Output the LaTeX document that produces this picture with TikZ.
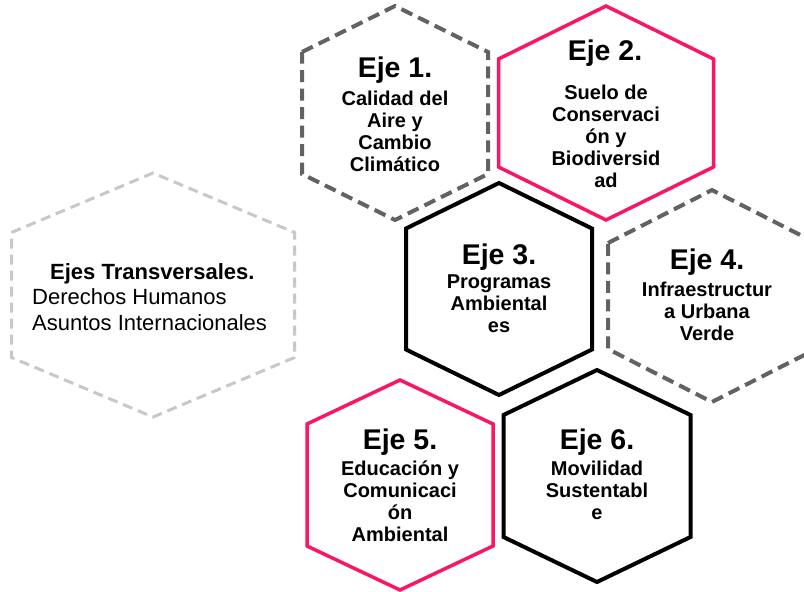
\documentclass[tikz,border=0pt]{standalone}
\usepackage{fontspec}
\setmainfont{Liberation Sans}
\definecolor{ejepink}{RGB}{250,22,102}
\definecolor{ejegray}{RGB}{98,98,98}
\definecolor{transgray}{RGB}{200,200,200}
% hexagon: centre x, centre y, half width, half height, half side
\newcommand{\hexa}[5]{(#1-#3,#2-#5) -- (#1,#2-#4) -- (#1+#3,#2-#5) -- (#1+#3,#2+#5) -- (#1,#2+#4) -- (#1-#3,#2+#5) -- cycle}
\tikzset{
  ejedash/.style={draw=ejegray, line width=4pt, dash pattern=on 12pt off 6.5pt, line join=miter},
  ejepinkline/.style={draw=ejepink, line width=3.5pt, line join=miter},
  ejeblack/.style={draw=black, line width=4pt, line join=miter},
  transdash/.style={draw=transgray, line width=3pt, dash pattern=on 10pt off 6pt},
  ejetitle/.style={font=\fontsize{28.5}{30}\selectfont\bfseries, inner sep=0pt},
  ejebody/.style={font=\fontsize{20}{22}\selectfont\bfseries, align=center, inner sep=0pt}
}
\begin{document}
\begin{tikzpicture}[x=1pt,y=-1pt]
	\useasboundingbox (0,0) rectangle (804,592);
	\fill[white] (0,0) rectangle (804,592);
	\begin{scope}
	\clip (0,0) rectangle (804,592);
	\draw[transdash] \hexa{153}{295}{141.5}{122}{62.5};
	\draw[ejedash] \hexa{395}{113}{93}{107}{61};
	\draw[ejepinkline] \hexa{606}{113}{107.5}{107}{54};
	\draw[ejeblack] \hexa{499}{289}{93}{106}{60.5};
	\draw[ejedash] \hexa{712}{296}{104}{106}{53};
	\draw[ejepinkline] \hexa{400}{485}{93}{105}{61};
	\draw[ejeblack] \hexa{597}{476}{93.5}{106}{61};
	\end{scope}
	% transversal text
	\node (trans) at (32,297) [anchor=west, align=left, inner sep=0pt, font=\fontsize{22}{25.5}\selectfont]
		{\hspace*{18pt}\textbf{Ejes Transversales.}\\Derechos Humanos\\Asuntos Internacionales};
	% ejes
	\node (t1) at (395,70)  [ejetitle] {Eje 1.};
	\node (b1) at (395,131) [ejebody]  {Calidad del\\Aire y\\Cambio\\Climático};
	\node (t2) at (605,53)  [ejetitle] {Eje 2.};
	\node (b2) at (606,136) [ejebody]  {Suelo de\\Conservaci\\ón y\\Biodiversid\\ad};
	\node (t3) at (499,257) [ejetitle] {Eje 3.};
	\node (b3) at (499,304) [ejebody]  {Programas\\Ambiental\\es};
	\node (t4) at (707,262) [ejetitle] {Eje 4.};
	\node (b4) at (707,311) [ejebody]  {Infraestructur\\a Urbana\\Verde};
	\node (t5) at (400,442) [ejetitle] {Eje 5.};
	\node (b5) at (400,501) [ejebody]  {Educación y\\Comunicaci\\ón\\Ambiental};
	\node (t6) at (597,442) [ejetitle] {Eje 6.};
	\node (b6) at (597,490) [ejebody]  {Movilidad\\Sustentabl\\e};
\end{tikzpicture}
\end{document}
